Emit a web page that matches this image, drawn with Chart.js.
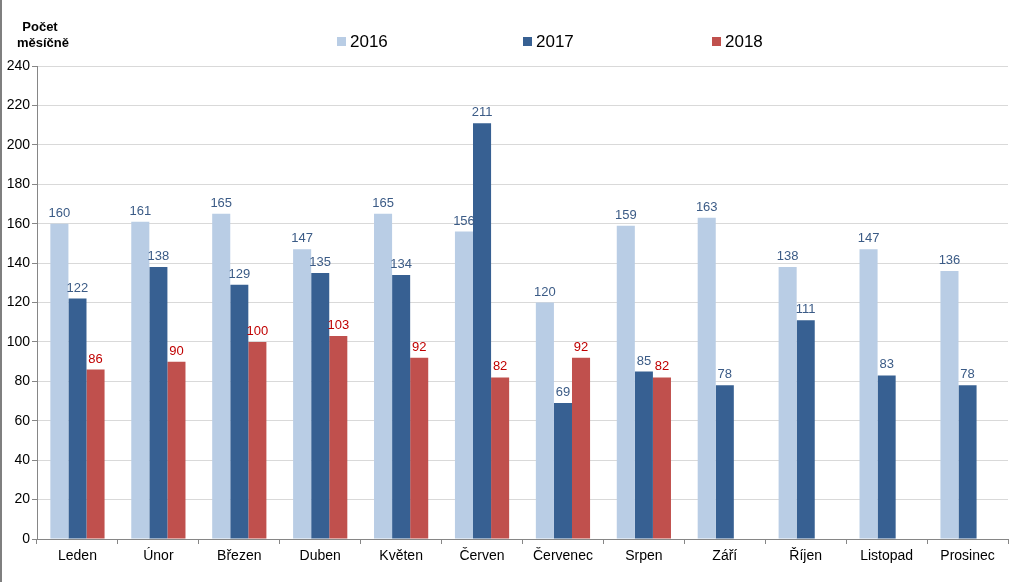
<!DOCTYPE html>
<html>
<head>
<meta charset="utf-8">
<script src="https://cdn.jsdelivr.net/npm/chart.js@4/dist/chart.umd.min.js"></script>
<style>
  html, body { margin: 0; padding: 0; background: #fff; }
  #wrap { width: 1024px; height: 582px; box-sizing: border-box; border-left: 2px solid #7f7f7f; }
  canvas { display: block; }
</style>
</head>
<body>
<div id="wrap"><canvas id="chart" width="1022" height="582"></canvas></div>
<script>
// mesice a hodnoty (pocet mesicne)
const months = ['Leden', 'Únor', 'Březen', 'Duben', 'Květen', 'Červen', 'Červenec', 'Srpen', 'Září', 'Říjen', 'Listopad', 'Prosinec'];
const years = ['2016', '2017', '2018'];
const values2016 = [160, 161, 165, 147, 165, 156, 120, 159, 163, 138, 147, 136];
const values2017 = [122, 138, 129, 135, 134, 211, 69, 85, 78, 111, 83, 78];
const values2018 = [86, 90, 100, 103, 92, 82, 92, 82, null, null, null, null];
const yTicks = [0, 20, 40, 60, 80, 100, 120, 140, 160, 180, 200, 220, 240];

const FONT = "'Liberation Sans', Arial, sans-serif";
const barColors = ['#B9CDE5', '#376092', '#C0504D'];
const labelColors = ['#3B5B86', '#3B5B86', '#C00000'];

// popisky hodnot nad sloupci
const valueLabels = {
  id: 'valueLabels',
  afterDatasetsDraw(chart) {
    const ctx = chart.ctx;
    ctx.save();
    ctx.font = '13px ' + FONT;
    ctx.textAlign = 'center';
    ctx.textBaseline = 'bottom';
    chart.data.datasets.forEach((ds, i) => {
      ctx.fillStyle = labelColors[i];
      chart.getDatasetMeta(i).data.forEach((bar, j) => {
        const v = ds.data[j];
        if (v == null) return;
        ctx.fillText(String(v), bar.x, bar.y - 4);
      });
    });
    ctx.restore();
  }
};

// nadpis osy a legenda
const header = {
  id: 'header',
  afterDraw(chart) {
    const ctx = chart.ctx;
    ctx.save();
    ctx.fillStyle = '#000';
    ctx.font = 'bold 13px ' + FONT;
    ctx.textAlign = 'center';
    ctx.textBaseline = 'middle';
    ctx.fillText('Počet', 38, 27);
    ctx.fillText('měsíčně', 41, 43);

    const legendX = [335, 521, 710];
    ctx.font = '17px ' + FONT;
    ctx.textAlign = 'left';
    years.forEach((y, i) => {
      ctx.fillStyle = barColors[i];
      ctx.fillRect(legendX[i], 37, 9, 9);
      ctx.fillStyle = '#000';
      ctx.fillText(y, legendX[i] + 13, 42);
    });
    ctx.restore();
  }
};

new Chart(document.getElementById('chart'), {
  type: 'bar',
  data: {
    labels: months,
    datasets: [
      { label: years[0], data: values2016, backgroundColor: barColors[0] },
      { label: years[1], data: values2017, backgroundColor: barColors[1] },
      { label: years[2], data: values2018, backgroundColor: barColors[2] }
    ]
  },
  options: {
    responsive: false,
    animation: false,
    datasets: {
      bar: { categoryPercentage: 0.67, barPercentage: 1.0 }
    },
    layout: { padding: { top: 66, right: 16, left: 0, bottom: 0 } },
    plugins: {
      legend: { display: false },
      tooltip: { enabled: false }
    },
    scales: {
      x: {
        grid: { display: true, drawOnChartArea: false, color: '#868686', tickLength: 5, offset: true },
        border: { color: '#868686' },
        ticks: { color: '#000', font: { family: FONT, size: 14 }, padding: 4, maxRotation: 0 },
        afterFit(scale) { scale.height = 43; }
      },
      y: {
        min: 0,
        max: 240,
        afterBuildTicks(scale) { scale.ticks = yTicks.map(v => ({ value: v })); },
        grid: { color: '#D9D9D9', tickColor: '#868686', tickLength: 5 },
        border: { color: '#868686' },
        ticks: { color: '#000', font: { family: FONT, size: 14 }, padding: 2 },
        afterFit(scale) { scale.width = 35; }
      }
    }
  },
  plugins: [valueLabels, header]
});
</script>
</body>
</html>
